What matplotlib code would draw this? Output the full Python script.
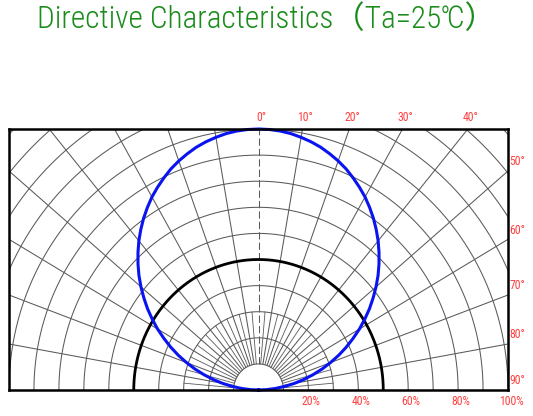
"""
Directive characteristics (polar radiation pattern) on a half-plane grid
"""

import numpy as np
import matplotlib.pyplot as plt

# Relative intensity (one half, the other is mirrored)
angles_deg = [0, 2.5, 5, 7.5, 10, 12.5, 15, 17.5, 20, 22.5, 25, 27.5, 30, 32.5, 35, 37.5,
              40, 42.5, 45, 47.5, 50, 52.5, 55, 57.5, 60, 62.5, 65, 67.5, 70, 72.5, 75,
              77.5, 80, 82.5, 85, 87.5, 90]
intensity = [1.000, 0.999, 0.996, 0.991, 0.983, 0.974, 0.963, 0.949, 0.934, 0.917, 0.897,
             0.876, 0.854, 0.829, 0.803, 0.775, 0.746, 0.715, 0.683, 0.650, 0.615, 0.579,
             0.543, 0.505, 0.467, 0.427, 0.388, 0.348, 0.307, 0.267, 0.226, 0.186, 0.146,
             0.106, 0.068, 0.032, 0.0]

top_labels = ['0°', '10°', '20°', '30°', '40°']
top_angles = [0, 10, 20, 30, 40]
side_labels = ['50°', '60°', '70°', '80°', '90°']
side_angles = [50, 60, 70, 80, 90]
pct_labels = ['20%', '40%', '60%', '80%', '100%']
pct_values = [0.2, 0.4, 0.6, 0.8, 1.0]

W, H = 533, 416
fig = plt.figure(figsize=(W / 100, H / 100), dpi=100)
ax = fig.add_axes([9 / W, (H - 390) / H, (508 - 9) / W, (390 - 129) / H])
ax.set_xlim(-1, 1)
ax.set_ylim(0, 1.0)
ax.set_xticks([])
ax.set_yticks([])
for s in ax.spines.values():
    s.set_linewidth(1.8)
    s.set_color('black')
    s.set_zorder(10)

grid_c = '#5a5a5a'
t = np.linspace(0, np.pi, 400)

# concentric arcs every 10%
for r in np.arange(0.1, 1.45, 0.1):
    if abs(r - 0.5) < 1e-6:
        continue
    ax.plot(r * np.cos(t), r * np.sin(t), color=grid_c, lw=0.75, zorder=1)

# radial lines every 10 deg
for a in range(-80, 90, 10):
    th = np.radians(a)
    ls = (0, (7, 3)) if a == 0 else '-'
    ax.plot([0.1 * np.sin(th), 2 * np.sin(th)], [0.1 * np.cos(th), 2 * np.cos(th)],
            color=grid_c, lw=0.75, ls=ls, zorder=1)

# extra 5 deg lines in the inner region
for a in range(-85, 90, 10):
    th = np.radians(a)
    ax.plot([0.1 * np.sin(th), 0.3 * np.sin(th)], [0.1 * np.cos(th), 0.3 * np.cos(th)],
            color=grid_c, lw=0.6, zorder=1)

# 50% reference arc
ax.plot(0.5 * np.cos(t), 0.5 * np.sin(t), color='black', lw=2.0, zorder=3)

# intensity curve, mirrored to both sides
ang = np.radians(np.array(angles_deg))
r = np.array(intensity)
full_ang = np.concatenate([-ang[::-1], ang[1:]])
full_r = np.concatenate([r[::-1], r[1:]])
ax.plot(full_r * np.sin(full_ang), full_r * np.cos(full_ang), color='#0a14f0',
        lw=2.2, zorder=4, clip_on=False)

lab_font = ['Roboto Condensed', 'DejaVu Sans']
red = '#ff4040'

# angle labels along the top
for lab, a in zip(top_labels, top_angles):
    x = np.tan(np.radians(a))
    ax.text(x + 0.012, 1.02, lab, color=red, fontsize=8.5, family=lab_font,
            ha='center', va='bottom')

# angle labels along the right side
for lab, a in zip(side_labels, side_angles):
    y = 1.0 / np.tan(np.radians(a))
    ax.text(1.006, y + 0.035, lab, color=red, fontsize=8.5, family=lab_font,
            ha='left', va='center')

# percentage labels along the bottom
for lab, v in zip(pct_labels, pct_values):
    ax.text(v + 0.012, -0.02, lab, color=red, fontsize=8.5, family=lab_font,
            ha='center', va='top')

fig.text(266 / W, 1 - 19 / H, 'Directive Characteristics（Ta=25℃）', color='#1a8c1a',
         fontsize=22.5, fontweight='light', ha='center', va='center',
         family=['Roboto Condensed', 'Noto Sans CJK SC', 'DejaVu Sans'])

fig.savefig('out.png', dpi=100)
